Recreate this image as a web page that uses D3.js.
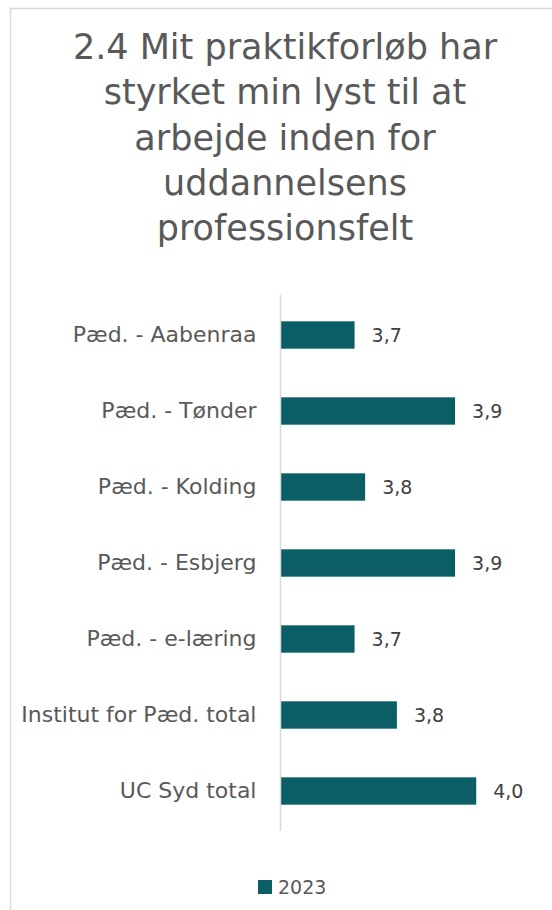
<!DOCTYPE html>
<html>
<head>
<meta charset="utf-8">
<script src="https://cdn.jsdelivr.net/npm/d3@7"></script>
<style>
	html, body { margin: 0; padding: 0; background: #fff; }
	svg { display: block; font-family: "DejaVu Sans", Lato, sans-serif; }
</style>
</head>
<body>
<svg id="chart" width="552" height="910"></svg>
<script>
// data
const titleLines = ['2.4 Mit praktikforløb har', 'styrket min lyst til at', 'arbejde inden for', 'uddannelsens', 'professionsfelt'];
const categories = ['Pæd. - Aabenraa', 'Pæd. - Tønder', 'Pæd. - Kolding', 'Pæd. - Esbjerg', 'Pæd. - e-læring', 'Institut for Pæd. total', 'UC Syd total'];
const values2023 = [3.74, 3.93, 3.76, 3.93, 3.74, 3.82, 3.97];
const seriesName = '2023';
const axisDomain = [3.6, 4.1];

const fontFamily = '"DejaVu Sans", Lato, sans-serif';
const textColor = '#595959';
const barColor = '#0b5e66';

const svg = d3.select('#chart');

// chart frame (only left and top edges are visible in the crop)
svg.append('path')
	.attr('d', 'M10.5,910 L10.5,8.5 L552,8.5')
	.attr('fill', 'none')
	.attr('stroke', '#d9d9d9')
	.attr('stroke-width', 1.5);

// title
svg.append('text')
	.attr('text-anchor', 'middle')
	.attr('fill', textColor)
	.attr('font-size', 35)
	.selectAll('tspan')
	.data(titleLines)
	.enter()
	.append('tspan')
	.attr('x', 285)
	.attr('y', (d, i) => 59 + i * 45.3)
	.text((d) => d);

// scales
const x = d3.scaleLinear()
	.domain(axisDomain)
	.range([280.5, 545]);

const y = d3.scaleBand()
	.domain(categories)
	.range([297, 829])
	.paddingInner(0.64)
	.paddingOuter(0.32);

const plot = svg.append('g');

// bars
plot.selectAll('rect.bar')
	.data(values2023)
	.enter()
	.append('rect')
	.attr('class', 'bar')
	.attr('x', x(axisDomain[0]))
	.attr('y', (d, i) => y(categories[i]))
	.attr('width', (d) => x(d) - x(axisDomain[0]))
	.attr('height', y.bandwidth())
	.attr('fill', barColor);

// vertical category axis
const yAxis = plot.append('g')
	.attr('transform', `translate(${x(axisDomain[0])},0)`)
	.call(d3.axisLeft(y).tickSize(0).tickPadding(24));
yAxis.attr('font-family', fontFamily).attr('font-size', 22);
yAxis.select('.domain')
	.attr('d', 'M0,295V831')
	.attr('stroke', '#d9d9d9')
	.attr('stroke-width', 1.5);
yAxis.selectAll('text')
	.attr('fill', textColor);

// value labels
const fmt = (v) => d3.format('.1f')(v).replace('.', ',');
plot.selectAll('text.val')
	.data(values2023)
	.enter()
	.append('text')
	.attr('class', 'val')
	.attr('x', (d) => x(d) + 17)
	.attr('y', (d, i) => y(categories[i]) + y.bandwidth() / 2)
	.attr('dy', '0.35em')
	.attr('fill', '#404040')
	.attr('font-size', 19)
	.text(fmt);

// legend
const legend = svg.append('g').attr('transform', 'translate(258,880)');
legend.append('rect')
	.attr('width', 14)
	.attr('height', 14)
	.attr('fill', barColor);
legend.append('text')
	.attr('x', 20)
	.attr('y', 7)
	.attr('dy', '0.35em')
	.attr('fill', textColor)
	.attr('font-size', 19)
	.text(seriesName);
</script>
</body>
</html>
